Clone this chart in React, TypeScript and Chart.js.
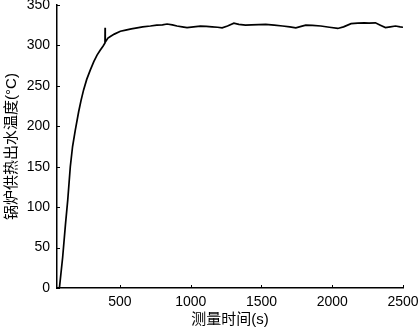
import React, { useEffect, useRef } from "react";
import { Chart, registerables } from "chart.js";

Chart.register(...registerables);

const timeS: number[] = [
  72, 95, 115, 131, 149, 165, 184, 208, 225, 243, 265, 290, 315, 338, 360, 380, 394, 395, 396, 415,
  432, 460, 503, 540, 580, 621, 660, 715, 760, 800, 833, 870, 903, 940, 974, 1020, 1068, 1110, 1151, 1190,
  1222, 1260, 1305, 1340, 1387, 1430, 1480, 1530, 1590, 1649, 1700, 1743, 1780, 1813, 1860, 1919, 1980, 2039, 2080, 2133,
  2180, 2227, 2260, 2305, 2340, 2376, 2410, 2447, 2480, 2500,
];
const tempC: number[] = [
  0, 38, 79, 109, 150, 175, 195, 218, 232, 245, 258, 269.5, 280, 288, 294, 299, 303, 322, 304, 309,
  311, 314, 317.5, 319, 320.5, 321.8, 323, 324, 325, 325.5, 326.5, 325.5, 324, 323, 322, 323, 323.8, 323.5, 323, 322.5,
  321.8, 324, 327.5, 326, 325, 325.5, 325.8, 326, 325, 324, 323, 321.8, 323.5, 325, 324.8, 324, 322.5, 321, 323, 327,
  327.5, 328, 327.5, 328, 325, 322, 323, 324, 323, 322.5,
];
const xTicks: number[] = [500, 1000, 1500, 2000, 2500];
const yTicks: number[] = [0, 50, 100, 150, 200, 250, 300, 350];

const xTitle = "测量时间(s)";
const yTitle = "锅炉供热出水温度(°C)";

const FAMILY = "'Liberation Sans', Arial, 'Noto Sans CJK SC', sans-serif";

const inwardTicks = {
  id: "inwardTicks",
  afterDraw(chart: any) {
    const ctx = chart.ctx;
    const xs = chart.scales.x;
    const ys = chart.scales.y;
    const area = chart.chartArea;
    ctx.save();
    ctx.strokeStyle = "#000";
    ctx.lineWidth = 1;
    xTicks.forEach((v) => {
      const px = Math.round(xs.getPixelForValue(v)) + 0.5;
      ctx.beginPath();
      ctx.moveTo(px, area.bottom);
      ctx.lineTo(px, area.bottom - 3);
      ctx.stroke();
    });
    yTicks.forEach((v) => {
      const py = Math.round(ys.getPixelForValue(v)) + 0.5;
      ctx.beginPath();
      ctx.moveTo(area.left, py);
      ctx.lineTo(area.left + 3, py);
      ctx.stroke();
    });
    ctx.restore();
  },
};

export default function App() {
  const ref = useRef<HTMLCanvasElement | null>(null);
  useEffect(() => {
    document.body.style.margin = "0";
    const canvas = ref.current;
    if (!canvas) return;
    const chart = new Chart(canvas, {
      type: "line",
      data: {
        datasets: [
          {
            data: timeS.map((t, i) => ({ x: t, y: tempC[i] })),
            borderColor: "#000",
            borderWidth: 1.7,
            pointRadius: 0,
            tension: 0,
            fill: false,
          },
        ],
      },
      options: {
        responsive: false,
        animation: false,
        plugins: { legend: { display: false }, tooltip: { enabled: false } },
        layout: { padding: { top: 5, right: 16, left: 0, bottom: 0 } },
        scales: {
          x: {
            type: "linear",
            min: 55,
            max: 2500,
            afterBuildTicks: (s: any) => {
              s.ticks = xTicks.map((v) => ({ value: v }));
            },
            afterFit: (s: any) => {
              s.height = 42;
              s.paddingLeft = 0;
              s.paddingRight = 0;
            },
            grid: { display: false, drawTicks: false },
            border: { display: true, color: "#000", width: 1.5 },
            ticks: {
              color: "#000",
              font: { family: FAMILY, size: 14 },
              padding: 6,
              maxRotation: 0,
              autoSkip: false,
              callback: (v: any) => String(v),
            },
            title: {
              display: true,
              text: xTitle,
              color: "#000",
              font: { family: FAMILY, size: 15 },
              padding: { top: 0, bottom: 1 },
            },
          },
          y: {
            type: "linear",
            min: 0,
            max: 350,
            afterBuildTicks: (s: any) => {
              s.ticks = yTicks.map((v) => ({ value: v }));
            },
            afterFit: (s: any) => {
              s.width = 57;
              s.paddingTop = 0;
              s.paddingBottom = 0;
            },
            grid: { display: false, drawTicks: false },
            border: { display: true, color: "#000", width: 1.5 },
            ticks: {
              color: "#000",
              font: { family: FAMILY, size: 14 },
              padding: 7,
              autoSkip: false,
              callback: (v: any) => String(v),
            },
            title: {
              display: true,
              text: yTitle,
              color: "#000",
              font: { family: FAMILY, size: 15 },
              padding: { top: 3, bottom: 0 },
            },
          },
        },
      },
      plugins: [inwardTicks],
    });
    return () => chart.destroy();
  }, []);
  return <canvas ref={ref} width={419} height={330} style={{ display: "block" }} />;
}
